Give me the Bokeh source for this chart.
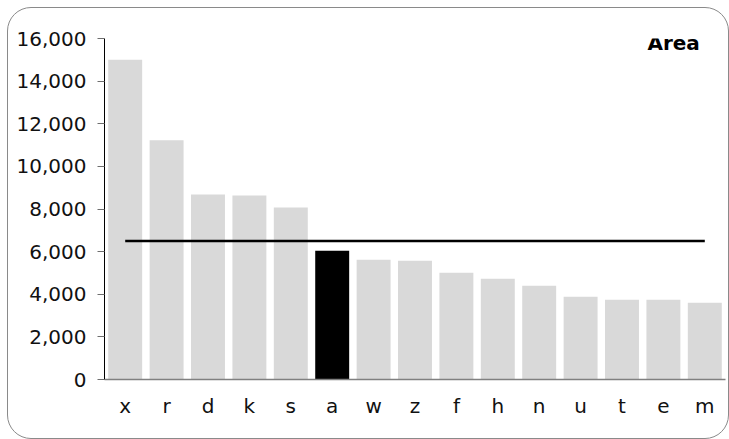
from bokeh.plotting import figure
from bokeh.models import (ColumnDataSource, FactorRange, Range1d, SingleIntervalTicker,
                          NumeralTickFormatter, Label)
from bokeh.embed import file_html
from bokeh.resources import INLINE

# ---- data ----
categories = ["x", "r", "d", "k", "s", "a", "w", "z", "f", "h", "n", "u", "t", "e", "m"]
area_values = [15000, 11220, 8680, 8630, 8070, 6040, 5620, 5570, 5010, 4730, 4400, 3880, 3740, 3740, 3600]
average_values = [6500, 6500, 6500, 6500, 6500, 6500, 6500, 6500, 6500, 6500, 6500, 6500, 6500, 6500, 6500]
highlight = "a"
title_text = "Area"

FONT = "DejaVu Sans"

colors = ["#000000" if c == highlight else "#d9d9d9" for c in categories]
src = ColumnDataSource(dict(cat=categories, val=area_values, color=colors, avg=average_values))

p = figure(width=722, height=432, x_range=FactorRange(*categories, range_padding=0),
           y_range=Range1d(0, 16000), output_backend="svg", toolbar_location=None,
           title=None, min_border_left=97, min_border_right=4, min_border_top=31,
           min_border_bottom=60)
p.margin = (7, 0, 0, 7)

p.vbar(x="cat", top="val", width=0.82, color="color", source=src, line_color=None)
p.line(x="cat", y="avg", source=src, line_color="black", line_width=2.6)

p.xgrid.visible = False
p.ygrid.visible = False
p.outline_line_color = None
p.background_fill_color = "white"
p.border_fill_color = "white"
p.border_fill_alpha = 0

# y axis
ya = p.yaxis[0]
ya.ticker = SingleIntervalTicker(interval=2000)
ya.formatter = NumeralTickFormatter(format="0,0")
ya.axis_line_color = "black"
ya.axis_line_width = 1
ya.major_tick_line_color = "#6e6e6e"
ya.major_tick_out = 7
ya.major_tick_in = 0
ya.minor_tick_line_color = None
ya.major_label_standoff = 11
ya.major_label_text_font = FONT
ya.major_label_text_font_size = "20px"
ya.major_label_text_color = "#111111"

# x axis
xa = p.xaxis[0]
xa.axis_line_color = "#808080"
xa.axis_line_width = 1.5
xa.major_tick_line_color = None
xa.minor_tick_line_color = None
xa.major_tick_out = 0
xa.major_tick_in = 0
xa.major_label_standoff = 14
xa.major_label_text_font = FONT
xa.major_label_text_font_size = "20px"
xa.major_label_text_color = "#111111"

title = Label(x=14.38, y=15800, text=title_text, text_align="right", text_baseline="alphabetic",
              text_font=FONT, text_font_size="20px", text_font_style="bold", text_color="#000000")
p.add_layout(title)

# rounded chart border
p.styles = {"outline": "1px solid #8a8a8a", "outline-offset": "-1px", "border-radius": "24px"}

open("out.html", "w").write(file_html(p, INLINE))
